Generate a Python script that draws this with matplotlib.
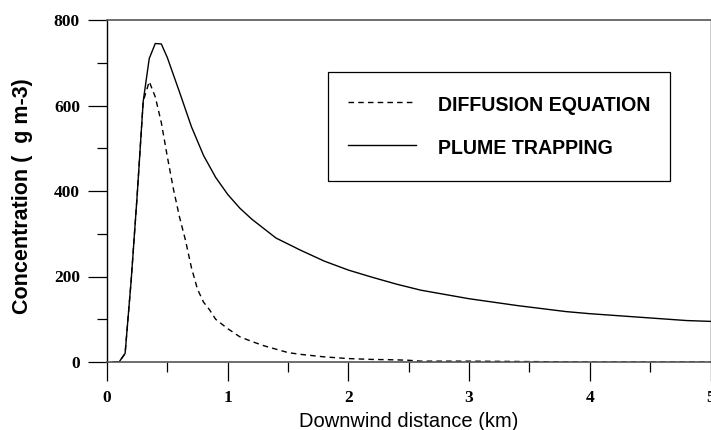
import matplotlib
matplotlib.use("Agg")
import matplotlib.pyplot as plt
from matplotlib.ticker import MultipleLocator

# Data
x_plume = [0.05, 0.1, 0.15, 0.2, 0.25, 0.3, 0.35, 0.4, 0.45, 0.5, 0.6, 0.7, 0.8, 0.9,
           1.0, 1.1, 1.2, 1.4, 1.6, 1.8, 2.0, 2.2, 2.4, 2.6, 2.8, 3.0, 3.2, 3.4,
           3.6, 3.8, 4.0, 4.2, 4.4, 4.6, 4.8, 5.0]
y_plume = [0, 0, 20, 190, 390, 610, 710, 745, 744, 712, 632, 550, 483, 432,
           392, 360, 334, 290, 262, 236, 215, 198, 182, 168, 158, 148, 140, 132,
           125, 118, 113, 109, 105, 101, 97, 95]

x_diff = [0.05, 0.1, 0.15, 0.2, 0.25, 0.3, 0.35, 0.4, 0.45, 0.5, 0.55, 0.6, 0.65, 0.7,
          0.75, 0.8, 0.85, 0.9, 1.0, 1.1, 1.2, 1.3, 1.4, 1.5, 1.6, 1.8, 2.0, 2.2,
          2.4, 2.5, 2.6, 3.0, 3.5, 4.0, 4.5, 5.0]
y_diff = [0, 0, 20, 190, 390, 610, 656, 620, 560, 480, 405, 340, 285, 220,
          170, 140, 122, 100, 78, 59, 48, 38, 30, 22, 18, 12, 8, 6,
          5, 4, 2, 2, 1, 0, 0, 0]

x_ticks = [0, 1, 2, 3, 4, 5]
y_ticks = [0, 200, 400, 600, 800]
label_diff = "DIFFUSION EQUATION"
label_plume = "PLUME TRAPPING"

fig = plt.figure(figsize=(7.11, 4.30), dpi=100)
ax = fig.add_axes([107/711, 1 - 362/430, 603.5/711, 342/430])

ax.plot(x_diff, y_diff, color="black", lw=1.0, linestyle=(0, (4, 3)), label=label_diff)
ax.plot(x_plume, y_plume, color="black", lw=1.0, label=label_plume)

ax.set_xlim(0, 5)
ax.set_ylim(0, 800)
ax.set_xticks(x_ticks)
ax.set_yticks(y_ticks)
ax.xaxis.set_minor_locator(MultipleLocator(0.5))
ax.yaxis.set_minor_locator(MultipleLocator(100))

ax.tick_params(axis="both", which="major", direction="out", length=13.5, width=0.9,
               colors="black")
ax.tick_params(axis="both", which="minor", direction="out", length=7, width=0.9,
               colors="black")
ax.tick_params(axis="x", which="major", pad=7)
ax.tick_params(axis="y", which="major", pad=6)

for lab in ax.get_xticklabels() + ax.get_yticklabels():
    lab.set_fontfamily("Liberation Serif")
    lab.set_fontweight("bold")
    lab.set_fontsize(12.5)

for s in ["top", "bottom"]:
    ax.spines[s].set_color("#555555")
    ax.spines[s].set_linewidth(1.2)
ax.spines["left"].set_color("black")
ax.spines["left"].set_linewidth(1.0)
ax.spines["right"].set_color("black")
ax.spines["right"].set_linewidth(1.0)

ax.set_xlabel("Downwind distance (km)", fontfamily="Liberation Sans", fontsize=14.5,
              labelpad=4)
ax.set_ylabel("Concentration (  g m-3)", fontfamily="Liberation Sans", fontsize=15.5,
              fontweight="bold")
ax.yaxis.set_label_coords((33 - 107) / 603.5, (362 - 196.5) / 342)

leg = ax.legend(loc="upper left", bbox_to_anchor=((328 - 107) / 603.5, (362 - 72) / 342),
                prop={"family": "Liberation Sans", "weight": "bold", "size": 14.1},
                frameon=True, fancybox=False, framealpha=1, edgecolor="black",
                handlelength=3.47, handletextpad=1.12, borderpad=1.02, handleheight=1.666,
                labelspacing=0.87, borderaxespad=0)
leg.get_frame().set_linewidth(0.9)

fig.savefig("out.png", dpi=100)
